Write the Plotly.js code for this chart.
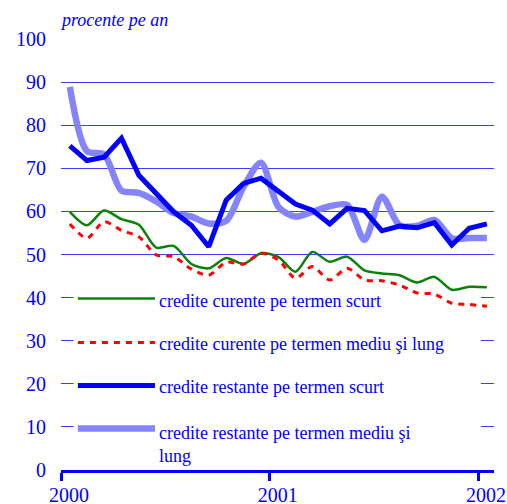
<!DOCTYPE html>
<html>
<head>
<meta charset="utf-8">
<script src="https://cdn.plot.ly/plotly-3.0.1.min.js"></script>
<style>
html,body{margin:0;padding:0;background:#fff;}
#chart text{font-family:'Liberation Serif','Times New Roman',serif !important;}
</style>
</head>
<body>
<div id="chart"></div>
<script>
// Monthly observations, Jan 2000 – Jan 2002
var months = ['2000-01','2000-02','2000-03','2000-04','2000-05','2000-06','2000-07','2000-08','2000-09','2000-10','2000-11','2000-12',
              '2001-01','2001-02','2001-03','2001-04','2001-05','2001-06','2001-07','2001-08','2001-09','2001-10','2001-11','2001-12',
              '2002-01'];
var curenteScurt = [59.9,56.8,60.2,58.2,56.9,51.6,52.0,47.8,46.8,49.2,47.8,50.3,49.4,46.0,50.6,48.3,49.5,46.3,45.6,45.2,43.5,44.8,41.8,42.5,42.4];
var curenteMediuLung = [57.1,53.8,57.6,55.6,54.1,49.9,49.5,46.6,45.2,48.2,47.8,50.3,48.7,44.5,47.2,44.1,46.8,44.1,43.9,42.9,41.1,40.8,38.7,38.4,38.0];
var restanteScurt = [75.2,71.8,72.6,77.0,68.4,64.2,59.9,56.8,51.8,62.6,66.5,67.7,64.8,61.7,60.3,57.1,60.7,60.2,55.5,56.6,56.2,57.4,52.2,56.1,57.1];
var restanteMediuLung = [88.9,74.0,73.2,64.8,64.3,62.3,59.6,58.8,57.2,57.8,65.7,71.3,61.0,58.8,59.9,61.2,61.5,53.4,63.4,56.8,56.6,58.0,53.8,53.8,53.8];
var seriesNames = ['credite curente pe termen scurt',
                   'credite curente pe termen mediu şi lung',
                   'credite restante pe termen scurt',
                   'credite restante pe termen mediu şi<br>lung'];
var yTicks = [0,10,20,30,40,50,60,70,80,90,100];
var xTickVals = ['2000-01-01','2001-01-01','2002-01-01'];
var xTickText = ['2000','2001','2002'];
var unitLabel = 'procente pe an';

var BLUE = '#0000ff';
var FONTFAM = 'Liberation Serif';
var colors = ['#0a820a','#ff0000','#0000ff','#8484ff'];
var widths = [2.5,3,5,6.5];
var dashes = ['solid','6px,6px','solid','solid'];
var shapesT = ['spline','spline','linear','spline'];
var data = [curenteScurt, curenteMediuLung, restanteScurt, restanteMediuLung];

var traces = [];
[3,2,0,1].forEach(function(k){
  traces.push({
    x: months, y: data[k], type:'scatter', mode:'lines',
    xperiod:'M1', xperiodalignment:'middle',
    line:{color:colors[k], width:widths[k], dash:dashes[k], shape:shapesT[k], smoothing:0.8},
    name: seriesNames[k], showlegend:false, hoverinfo:'skip'
  });
});

var legY = [39.8, 29.6, 19.6, 9.6];
var textY = [39.3, 29.3, 19.3, 6.0];
var shapes = [{
  type:'rect', layer:'between', xref:'x', yref:'y',
  x0:'2000-01-23', x1:'2002-01-06', y0:2, y1:46,
  fillcolor:'#ffffff', line:{width:0}
}];
var annotations = [];
for (var k=0;k<4;k++){
  shapes.push({type:'line', xref:'paper', yref:'y', x0:0.039, x1:0.217, y0:legY[k], y1:legY[k],
    line:{color:colors[k], width:widths[k], dash:dashes[k]}});
  annotations.push({xref:'paper', yref:'y', x:0.222, y:textY[k], xanchor:'left', yanchor:'middle',
    text:seriesNames[k], showarrow:false, align:'left',
    font:{family:FONTFAM, size:18, color:BLUE}});
}
annotations.push({xref:'paper', yref:'paper', x:-0.006, y:1.044, xanchor:'left', yanchor:'middle',
  text:'<i>'+unitLabel+'</i>', showarrow:false, font:{family:FONTFAM, size:18, color:BLUE}});

var layout = {
  width:507, height:504,
  font:{family:FONTFAM, color:BLUE},
  margin:{l:61, r:13, t:39, b:34},
  paper_bgcolor:'#ffffff', plot_bgcolor:'#ffffff',
  showlegend:false,
  xaxis:{type:'date', range:['2000-01-01','2002-01-29'],
    tickmode:'array', tickvals:xTickVals, ticktext:xTickText,
    showgrid:false, zeroline:false, showline:true, linecolor:BLUE, linewidth:3,
    ticks:'outside', ticklen:8, tickwidth:3, tickcolor:BLUE, ticklabelshift:8, ticklabelstandoff:-3,
    tickfont:{family:FONTFAM, size:20, color:BLUE}},
  yaxis:{range:[0,100], tickmode:'array', tickvals:yTicks,
    showgrid:true, gridcolor:'#3c3cff', gridwidth:1, zeroline:false, showline:false,
    ticks:'', ticklabelstandoff:14,
    tickfont:{family:FONTFAM, size:20, color:BLUE}},
  shapes:shapes, annotations:annotations
};

function fixFonts(){
  var nodes = document.querySelectorAll('#chart text');
  for (var i=0;i<nodes.length;i++){
    nodes[i].style.setProperty('font-family', "'Liberation Serif', 'Times New Roman', serif", 'important');
  }
}
Plotly.newPlot('chart', traces, layout, {displayModeBar:false, staticPlot:true}).then(fixFonts);
fixFonts();
</script>
</body>
</html>
